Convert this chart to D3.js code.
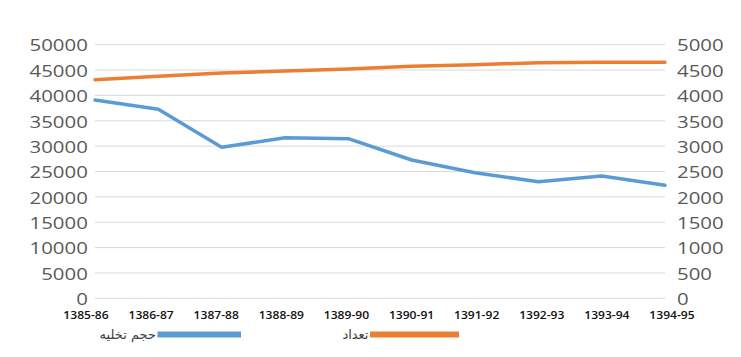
<!DOCTYPE html>
<html><head><meta charset="utf-8">
<script src="https://cdn.jsdelivr.net/npm/d3@7"></script>
<style>body{margin:0;background:#fff}svg{display:block}</style>
</head><body>
<svg id="c" width="741" height="357"></svg>
<script>
const categories = ["1385-86","1386-87","1387-88","1388-89","1389-90","1390-91","1391-92","1392-93","1393-94","1394-95"];
const dischargeVolume = [39100, 37260, 29770, 31660, 31470, 27270, 24770, 22990, 24110, 22280];
const countValues = [4310, 4377, 4442, 4481, 4521, 4574, 4606, 4645, 4653, 4653];
const leftTicks = [0,5000,10000,15000,20000,25000,30000,35000,40000,45000,50000];
const rightTicks = [0,500,1000,1500,2000,2500,3000,3500,4000,4500,5000];
const seriesNames = ["حجم تخلیه", "تعداد"];
const colors = ["#5B9BD5", "#ED7D31"];

const svg = d3.select("#c");
const L = 95, R = 665, T = 44.7, B = 298.3;
const x = d3.scalePoint().domain(categories).range([L, R]);
const xLab = d3.scalePoint().domain(categories).range([86, 672]);
const yL = d3.scaleLinear().domain([0, 50000]).range([B, T]);
const yR = d3.scaleLinear().domain([0, 5000]).range([B, T]);

// gridlines
svg.append("g").selectAll("line").data(leftTicks).join("line")
  .attr("x1", L).attr("x2", R)
  .attr("y1", d => yL(d)).attr("y2", d => yL(d))
  .attr("stroke", "#d9d9d9").attr("stroke-width", 1);

// left axis
const ga = svg.append("g").attr("transform", `translate(${L},0)`)
  .call(d3.axisLeft(yL).tickValues(leftTicks).tickSize(0).tickPadding(6).tickFormat(d3.format("d")));
ga.select(".domain").remove();
ga.selectAll("text").attr("font-family", "Open Sans").attr("font-size", 17)
  .attr("fill", "#595959").attr("dy", "0.37em")
  .attr("transform", "scale(1.2,1)");

// right axis
const gr = svg.append("g").attr("transform", `translate(${R},0)`)
  .call(d3.axisRight(yR).tickValues(rightTicks).tickSize(0).tickPadding(10).tickFormat(d3.format("d")));
gr.select(".domain").remove();
gr.selectAll("text").attr("font-family", "Open Sans").attr("font-size", 17)
  .attr("fill", "#595959").attr("dy", "0.37em")
  .attr("transform", "scale(1.2,1)");

// category labels
svg.append("g").selectAll("text").data(categories).join("text")
  .attr("transform", d => `translate(${xLab(d)},319) scale(1.15,1)`)
  .attr("text-anchor", "middle")
  .attr("font-family", "Open Sans").attr("font-weight", 600).attr("font-size", 10.5)
  .attr("fill", "#111").text(d => d);

// lines
const line1 = d3.line().x((d,i) => x(categories[i])).y(d => yL(d));
const line2 = d3.line().x((d,i) => x(categories[i])).y(d => yR(d));
svg.append("path").attr("d", line1(dischargeVolume)).attr("fill", "none")
  .attr("stroke", colors[0]).attr("stroke-width", 3.5).attr("stroke-linejoin", "round").attr("stroke-linecap", "round");
svg.append("path").attr("d", line2(countValues)).attr("fill", "none")
  .attr("stroke", colors[1]).attr("stroke-width", 3.5).attr("stroke-linejoin", "round").attr("stroke-linecap", "round");

// legend
const legend = [
  {name: seriesNames[0], color: colors[0], x0: 157.5, x1: 241},
  {name: seriesNames[1], color: colors[1], x0: 370, x1: 459}
];
const lg = svg.append("g");
lg.selectAll("rect").data(legend).join("rect")
  .attr("x", d => d.x0).attr("y", 331.5).attr("width", d => d.x1 - d.x0).attr("height", 6)
  .attr("fill", d => d.color);
lg.selectAll("text").data(legend).join("text")
  .attr("x", d => d.x0 - 1.5).attr("y", 339)
  .attr("text-anchor", "end")
  .attr("font-family", "DejaVu Sans").attr("font-size", 13).attr("fill", "#404040")
  .text(d => d.name);
</script>
</body></html>
